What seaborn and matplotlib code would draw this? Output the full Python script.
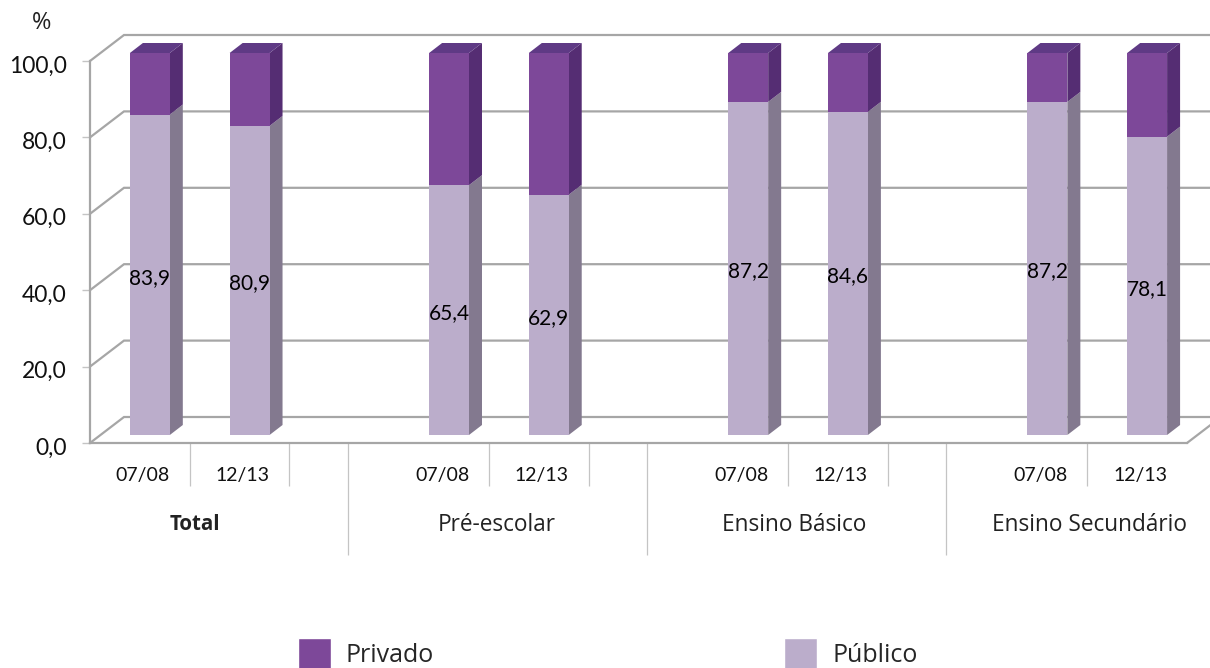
import matplotlib
matplotlib.use("Agg")
import matplotlib.pyplot as plt
from matplotlib.patches import Patch
from matplotlib.transforms import Affine2D
import seaborn as sns

slots = ["Total 07/08", "Total 12/13", "", "Pre 07/08", "Pre 12/13", " ",
         "Basico 07/08", "Basico 12/13", "  ", "Sec 07/08", "Sec 12/13"]
bar_slots = ["Total 07/08", "Total 12/13", "Pre 07/08", "Pre 12/13",
             "Basico 07/08", "Basico 12/13", "Sec 07/08", "Sec 12/13"]
publico = [83.9, 80.9, 65.4, 62.9, 87.2, 84.6, 87.2, 78.1]
privado = [16.1, 19.1, 34.6, 37.1, 12.8, 15.4, 12.8, 21.9]
year_labels = ["07/08", "12/13"] * 4
groups = ["Total", "Pré-escolar", "Ensino Básico", "Ensino Secundário"]
y_ticks = [0, 20, 40, 60, 80, 100]

BODY = "Lato"
CAPTION = "Open Sans"
GRID = "#a6a6a6"
SEP = "#c4c4c4"
pub_col, pub_side = "#bbadcb", "#83798f"
pri_col, pri_side, pri_top = "#7d4899", "#552d73", "#5f3a85"

sns.set_theme(style="white")
plt.rcParams["font.family"] = [BODY, "DejaVu Sans"]

fig = plt.figure(figsize=(12.1, 6.68), dpi=100)
ax = fig.add_axes([90 / 1210, (668 - 443) / 668, (1187 - 90) / 1210, 382 / 668])

sns.barplot(x=bar_slots, y=publico, order=slots, color=pub_col, saturation=1,
            width=0.4, ax=ax, zorder=3)
sns.barplot(x=bar_slots, y=privado, bottom=publico, order=slots, color=pri_col,
            saturation=1, width=0.4, ax=ax, zorder=3)

ax.set_xlim(-0.5, 10.5)
ax.set_ylim(0, 100)
ppx = 11 / 1097   # data units per pixel, x
ppy = 100 / 382   # data units per pixel, y

# bars stand on the floor, a bit behind the front edge
shift = ax.transData + Affine2D().translate(10, 8)
bars = [p for p in ax.patches if p.get_height() > 0]
for n, p in enumerate(bars):
    p.set_transform(shift)
    p.set_clip_on(False)
    p.set_linewidth(0)
    x0, x1 = p.get_x(), p.get_x() + p.get_width()
    y0, y1 = p.get_y(), p.get_y() + p.get_height()
    dx, dy = 13 * ppx, 10 * ppy
    is_pub = n < len(bars) / 2
    ax.fill([x1, x1 + dx, x1 + dx, x1], [y0, y0 + dy, y1 + dy, y1],
            color=pub_side if is_pub else pri_side, lw=0, zorder=2.5,
            transform=shift, clip_on=False)
    if not is_pub:
        ax.fill([x0, x0 + dx, x1 + dx, x1], [y1, y1 + dy, y1 + dy, y1],
                color=pri_top, lw=0, zorder=2.5, transform=shift, clip_on=False)

# walls and floor
wx, wy = 34 * ppx, 26 * ppy
for v in y_ticks:
    ax.plot([-0.5, -0.5 + wx, 11.0], [v, v + wy, v + wy], color=GRID, lw=1.6,
            zorder=1, clip_on=False, solid_joinstyle="miter")
ax.plot([10.5, 10.5 + wx], [0, wy], color=GRID, lw=1.6, zorder=1, clip_on=False)

sns.despine(ax=ax, top=True, right=True)
for s in ["left", "bottom"]:
    ax.spines[s].set_color(GRID)
    ax.spines[s].set_linewidth(1.6)

ax.set_yticks(y_ticks)
ax.set_yticklabels([f"{v},0" for v in y_ticks], fontsize=16.5, color="#111111")
ax.tick_params(axis="y", left=True, length=5.8, width=1, color=SEP, pad=11)
for lab in ax.get_yticklabels():
    lab.set_transform(lab.get_transform() + Affine2D().translate(0, -3))
xs = [slots.index(s) for s in bar_slots]
ax.set_xticks([x + 0.03 for x in xs])
ax.set_xticklabels(year_labels, fontsize=14, color="#111111")
ax.tick_params(axis="x", bottom=False, length=0, pad=17)
ax.set_xlabel("")
ax.set_ylabel("")

# separators under the axis
short_seps = [0.5, 1.5, 3.5, 4.5, 6.5, 7.5, 9.5]
long_seps = [2.085, 5.085, 8.085]
ax.vlines(short_seps, -43 * ppy, 0, color=SEP, lw=0.9, clip_on=False)
ax.vlines(long_seps, -112 * ppy, 0, color=SEP, lw=0.9, clip_on=False)

group_pos = [0.55, 3.58, 6.56, 9.52]
for g, x in zip(groups, group_pos):
    bold = g == "Total"
    ax.text(x, -82 * ppy, g, ha="center", va="center", fontsize=14.8 if bold else 16.3,
            family=CAPTION, color="#222222", fontweight="bold" if bold else "normal",
            clip_on=False)

for x, v in zip(xs, publico):
    ax.annotate(f"{v:.1f}".replace(".", ","), (x, v / 2), xytext=(7.2, 3.6),
                textcoords="offset points", ha="center", va="center",
                fontsize=15, color="black", zorder=5)

ax.text(-0.99, 110, "%", ha="center", va="center", fontsize=17, family=CAPTION,
        color="#222222", clip_on=False)

handles = [Patch(facecolor=pri_col, label="Privado"), Patch(facecolor=pub_col, label="Público")]
fig.legend(handles=handles, loc="lower left", bbox_to_anchor=(298 / 1210, -0.002), ncol=2,
           frameon=False, borderpad=0, borderaxespad=0, handlelength=1.32, handleheight=1.55,
           handletextpad=0.6, columnspacing=14, prop={"family": CAPTION, "size": 18})

fig.savefig("out.png", dpi=100)
